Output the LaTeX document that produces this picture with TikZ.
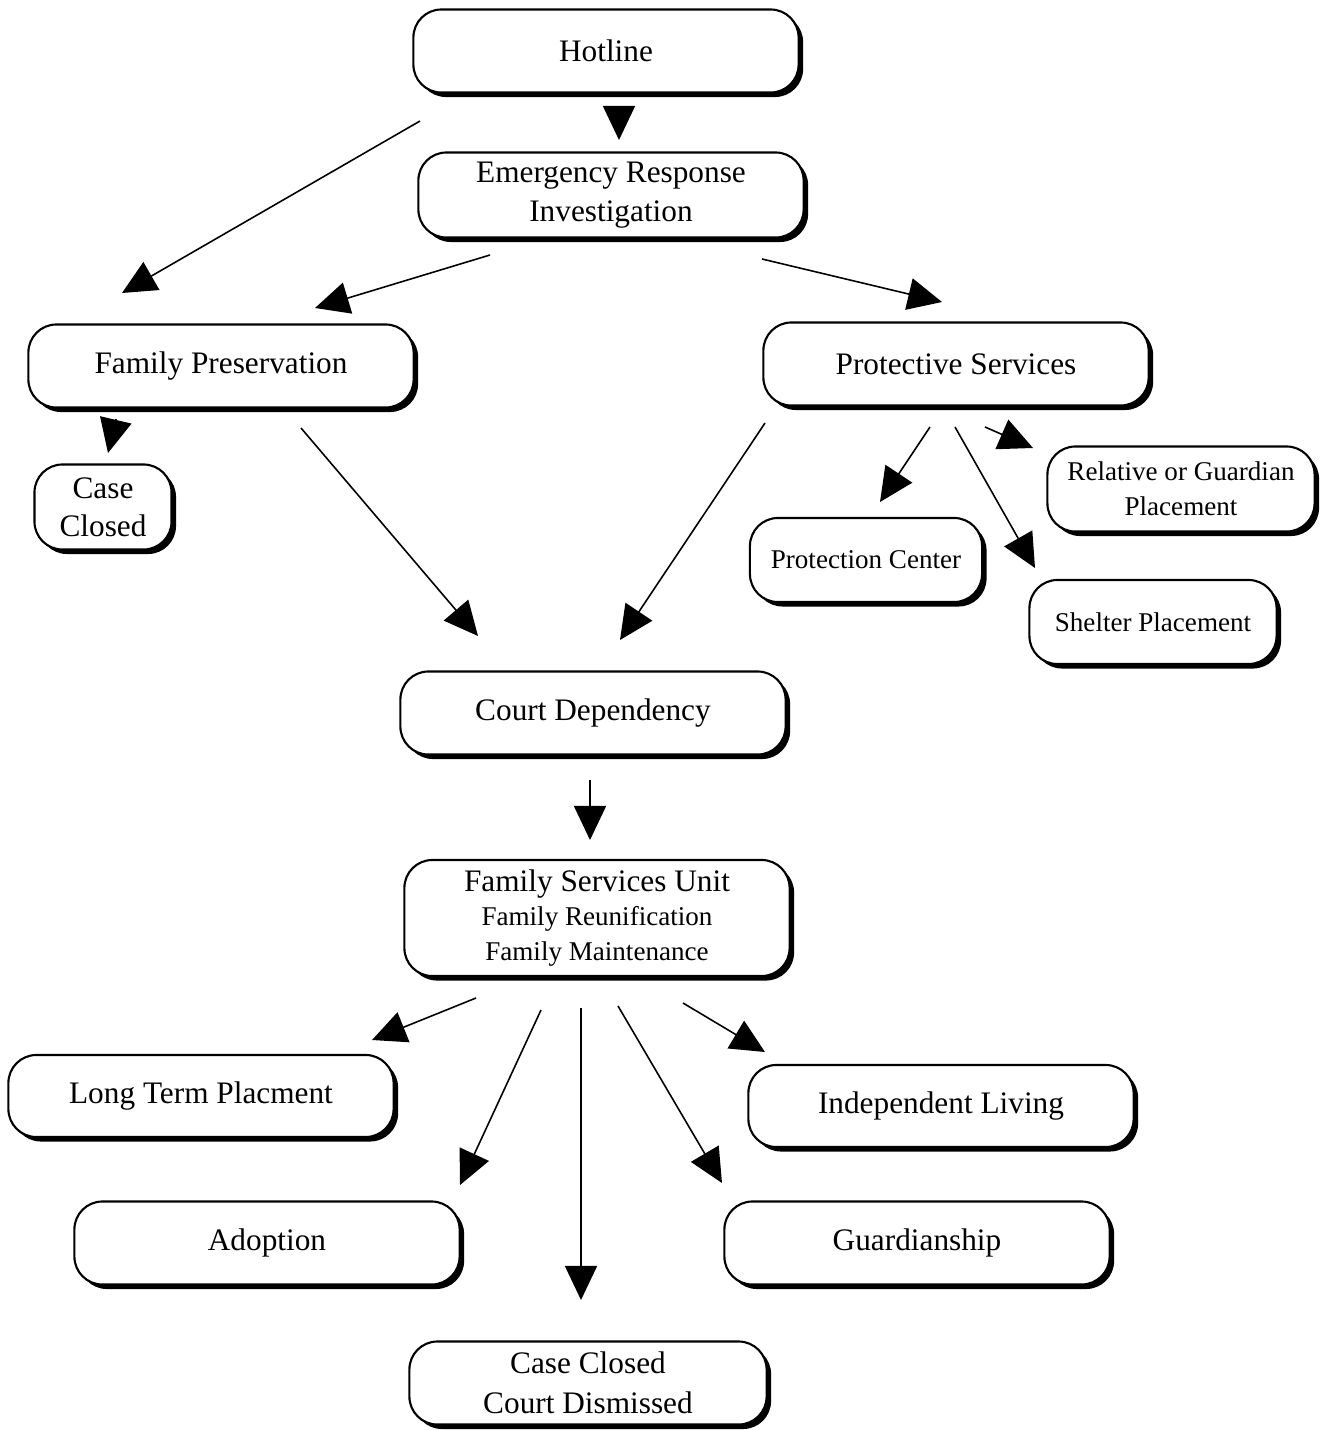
\documentclass[tikz,border=0pt]{standalone}
\usepackage{fontspec}
\setmainfont{Liberation Serif}
\usetikzlibrary{arrows.meta,shadows}
\newcommand{\boxfont}{\fontsize{8.9}{11.3}\selectfont}
\newcommand{\smallboxfont}{\fontsize{7.7}{10}\selectfont}
\tikzset{
  box/.style={draw, line width=0.6pt, rounded corners=0.28cm, fill=white,
    align=center, font=\boxfont, inner sep=0pt,
    drop shadow={shadow xshift=0.045cm, shadow yshift=-0.045cm, fill=black, opacity=1}},
  bigbox/.style={box, minimum width=3.85cm, minimum height=0.83cm},
  arr/.style={-{Triangle[length=0.34cm,width=0.32cm]}, line width=0.45pt},
}
\begin{document}
\begin{tikzpicture}[x=0.01cm, y=-0.01cm]
  \useasboundingbox (0,0) rectangle (1335,1430);

  % intake
  \node[bigbox] (hotline) at (606,51) {Hotline};
  \node[bigbox, minimum height=0.85cm] (investig) at (611,195) {Emergency Response\\Investigation};
  \node[bigbox] (fampres) at (221,366) {Family Preservation};
  \node[bigbox] (protsrv) at (956,364) {Protective Services};
  \node[box, minimum width=1.37cm, minimum height=0.85cm] (closed) at (103,507) {Case\\[-0.5pt]Closed};

  % protective placements
  \node[box, font=\smallboxfont, minimum width=2.67cm, minimum height=0.85cm] (relative) at (1181,489) {Relative or Guardian\\Placement};
  \node[box, font=\smallboxfont, minimum width=2.32cm, minimum height=0.84cm] (protcent) at (866,560) {Protection Center};
  \node[box, font=\smallboxfont, minimum width=2.47cm, minimum height=0.84cm] (shelter) at (1153,622) {Shelter Placement};

  % court
  \node[bigbox] (courtdep) at (593,713) {Court Dependency};
  \node[bigbox, minimum height=1.16cm] (famserv) at (597,918)
    {Family Services Unit\\[-1.5pt]\smallboxfont Family Reunification\\[-1.5pt]\smallboxfont Family Maintenance};

  % outcomes
  \node[bigbox, minimum height=0.82cm] (longterm) at (201,1096) {Long Term Placment};
  \node[bigbox, minimum height=0.82cm] (indep) at (941,1106) {Independent Living};
  \node[bigbox] (adoption) at (267,1243) {Adoption};
  \node[bigbox] (guardian) at (917,1243) {Guardianship};
  \node[bigbox, minimum width=3.57cm] (dismissed) at (588,1383) {Case Closed\\Court Dismissed};

  % arrow ends (the arrows float between the boxes)
  \coordinate (hot-s) at (619,106);   \coordinate (inv-n) at (619,140);
  \coordinate (hot-sw) at (420,121);  \coordinate (fp-ne) at (122,293);
  \coordinate (inv-sw) at (490,255);  \coordinate (fp-n) at (315,308);
  \coordinate (inv-se) at (762,259);  \coordinate (ps-n) at (942,302);
  \coordinate (fp-s) at (116,419);    \coordinate (cc-n) at (108,453);
  \coordinate (fp-se) at (301,428);   \coordinate (cd-nw) at (478,636);
  \coordinate (ps-sw) at (765,423);   \coordinate (cd-ne) at (620,640);
  \coordinate (ps-s1) at (930,427);   \coordinate (pc-n) at (880,502);
  \coordinate (ps-s2) at (955,427);   \coordinate (sh-n) at (1035,568);
  \coordinate (ps-s3) at (985,427);   \coordinate (rel-w) at (1033,448);
  \coordinate (cd-s) at (590,780);    \coordinate (fs-n) at (590,840);
  \coordinate (fs-s1) at (476,998);   \coordinate (lt-ne) at (372,1040);
  \coordinate (fs-s2) at (541,1010);  \coordinate (ad-ne) at (460,1185);
  \coordinate (fs-s3) at (581,1008);  \coordinate (dis-n) at (581,1300);
  \coordinate (fs-s4) at (618,1006);  \coordinate (gu-nw) at (722,1183);
  \coordinate (fs-s5) at (683,1003);  \coordinate (il-nw) at (765,1052);

  \draw[arr] (hot-s) -- (inv-n);
  \draw[arr] (hot-sw) -- (fp-ne);
  \draw[arr] (inv-sw) -- (fp-n);
  \draw[arr] (inv-se) -- (ps-n);
  \draw[arr] (fp-s) -- (cc-n);
  \draw[arr] (fp-se) -- (cd-nw);
  \draw[arr] (ps-sw) -- (cd-ne);
  \draw[arr] (ps-s1) -- (pc-n);
  \draw[arr] (ps-s2) -- (sh-n);
  \draw[arr] (ps-s3) -- (rel-w);
  \draw[arr] (cd-s) -- (fs-n);
  \draw[arr] (fs-s1) -- (lt-ne);
  \draw[arr] (fs-s2) -- (ad-ne);
  \draw[arr] (fs-s3) -- (dis-n);
  \draw[arr] (fs-s4) -- (gu-nw);
  \draw[arr] (fs-s5) -- (il-nw);
\end{tikzpicture}
\end{document}
